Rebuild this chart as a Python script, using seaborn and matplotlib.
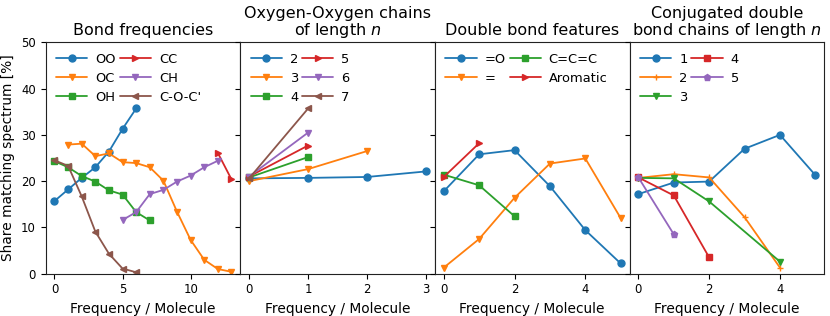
import numpy as np
import pandas as pd
import matplotlib
matplotlib.use("Agg")
import matplotlib.pyplot as plt
import seaborn as sns

# panel 1: bond frequencies
bond_labels = ["OO", "OC", "OH", "CC", "CH", "C-O-C'"]
bond_x = [
    [0, 1, 2, 3, 4, 5, 6],
    [1, 2, 3, 4, 5, 6, 7, 8, 9, 10, 11, 12, 13],
    [0, 1, 2, 3, 4, 5, 6, 7],
    [12, 13],
    [5, 6, 7, 8, 9, 10, 11, 12],
    [0, 1, 2, 3, 4, 5, 6],
]
bond_y = [
    [15.7, 18.2, 20.7, 23.0, 26.4, 31.3, 35.7],
    [27.9, 28.1, 25.4, 26.0, 24.1, 23.9, 23.0, 20.1, 13.4, 7.3, 3.0, 1.0, 0.4],
    [24.3, 23.0, 21.1, 19.9, 18.0, 17.1, 13.3, 11.5],
    [26.1, 20.4],
    [11.6, 13.3, 17.2, 18.1, 19.9, 21.2, 23.0, 24.4],
    [24.5, 23.3, 16.7, 9.1, 4.3, 1.1, 0.3],
]
bond_markers = ["o", "v", "s", ">", "v", "<"]

# panel 2: oxygen-oxygen chains
oo_labels = ["2", "3", "4", "5", "6", "7"]
oo_x = [[0, 1, 2, 3], [0, 1, 2], [0, 1], [0, 1], [0, 1], [0, 1]]
oo_y = [
    [20.6, 20.7, 20.9, 22.1],
    [20.0, 22.6, 26.5],
    [20.8, 25.2],
    [21.0, 27.7],
    [21.0, 30.5],
    [20.6, 35.7],
]
oo_markers = ["o", "v", "s", ">", "v", "<"]

# panel 3: double bond features
db_labels = ["=O", "=", "C=C=C", "Aromatic"]
db_x = [[0, 1, 2, 3, 4, 5], [0, 1, 2, 3, 4, 5], [0, 1, 2], [0, 1]]
db_y = [
    [17.8, 25.8, 26.7, 18.9, 9.4, 2.2],
    [1.3, 7.5, 16.4, 23.8, 24.9, 12.0],
    [21.4, 19.1, 12.4],
    [20.9, 28.2],
]
db_markers = ["o", "v", "s", ">"]

# panel 4: conjugated double bond chains
cj_labels = ["1", "2", "3", "4", "5"]
cj_x = [[0, 1, 2, 3, 4, 5], [0, 1, 2, 3, 4], [0, 1, 2, 4], [0, 1, 2], [0, 1]]
cj_y = [
    [17.2, 19.7, 19.9, 27.0, 30.0, 21.3],
    [20.7, 21.5, 20.8, 12.2, 1.3],
    [20.7, 20.6, 15.6, 2.6],
    [20.8, 16.9, 3.5],
    [20.8, 8.5],
]
cj_markers = ["o", "+", "v", "s", "p"]

titles = [
    "Bond frequencies",
    "Oxygen-Oxygen chains\nof length $n$",
    "Double bond features",
    "Conjugated double\nbond chains of length $n$",
]
xticks = [[0, 5, 10], [0, 1, 2, 3], [0, 2, 4], [0, 2, 4]]

panels = [
    (bond_labels, bond_x, bond_y, bond_markers),
    (oo_labels, oo_x, oo_y, oo_markers),
    (db_labels, db_x, db_y, db_markers),
    (cj_labels, cj_x, cj_y, cj_markers),
]

sns.set_style("ticks")
plt.rcParams["font.family"] = ["DejaVu Sans"]
plt.rcParams["text.color"] = "black"
plt.rcParams["axes.labelcolor"] = "black"
plt.rcParams["xtick.color"] = "black"
plt.rcParams["ytick.color"] = "black"
palette = sns.color_palette("tab10")

fig, axes = plt.subplots(1, 4, figsize=(8.3, 3.16), dpi=100, sharey=True)
fig.subplots_adjust(left=0.055, right=0.993, bottom=0.134, top=0.866, wspace=0)

for ax, (labels, xs, ys, markers), title, ticks in zip(axes, panels, titles, xticks):
    for i, (lab, x, y, m) in enumerate(zip(labels, xs, ys, markers)):
        df = pd.DataFrame({"x": x, "y": y})
        sns.lineplot(data=df, x="x", y="y", ax=ax, color=palette[i], marker=m,
                     markersize=5, markeredgecolor=palette[i],
                     markeredgewidth=1, linewidth=1.3, label=lab)
    ax.set_title(title, fontsize=11.5, linespacing=1.05, pad=5)
    ax.set_xlabel("Frequency / Molecule", fontsize=9.9)
    ax.set_ylabel("")
    ax.set_xticks(ticks)
    ax.set_ylim(0, 50)
    ax.set_yticks([0, 10, 20, 30, 40, 50])
    ax.tick_params(labelsize=8.4, length=3.5, width=0.8)
    for s in ax.spines.values():
        s.set_color("#222222")
        s.set_linewidth(0.8)
    ax.legend(ncol=2, frameon=False, loc="upper left", fontsize=9.4,
              columnspacing=0.3, handlelength=2.4, handletextpad=0.6,
              labelspacing=0.45, borderaxespad=0.4)

axes[0].set_ylabel("Share matching spectrum [%]", fontsize=9.9)

fig.savefig("out.png", dpi=100)
